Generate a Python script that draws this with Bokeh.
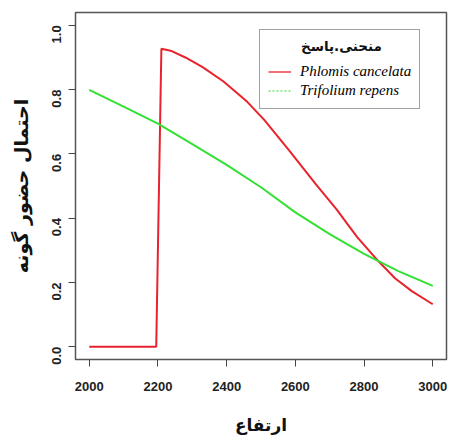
import math
from bokeh.plotting import figure
from bokeh.models import (Range1d, FixedTicker, Legend, LegendItem, NumeralTickFormatter)
from bokeh.embed import file_html
from bokeh.resources import INLINE

# ---- data ----
phlomis_x = [2000, 2195, 2210, 2240, 2280, 2330, 2390, 2460, 2510, 2580, 2660, 2720, 2780, 2840, 2890, 2940, 3000]
phlomis_y = [0.0, 0.0, 0.927, 0.920, 0.900, 0.870, 0.826, 0.762, 0.705, 0.613, 0.505, 0.427, 0.341, 0.268, 0.213, 0.172, 0.132]

trifolium_x = [2000, 2100, 2200, 2300, 2400, 2500, 2600, 2700, 2800, 2900, 3000]
trifolium_y = [0.799, 0.747, 0.694, 0.630, 0.566, 0.496, 0.418, 0.350, 0.289, 0.235, 0.189]

x_ticks = [2000, 2200, 2400, 2600, 2800, 3000]
y_ticks = [0.0, 0.2, 0.4, 0.6, 0.8, 1.0]

legend_title = "منحنی.پاسخ"
series_names = ["Phlomis cancelata", "Trifolium repens"]
x_title = "ارتفاع"
y_title = "احتمال حضور گونه"

RED = "#e8232b"
GREEN = "#33e033"
NAN = float("nan")

p = figure(frame_width=371, frame_height=347,
           min_border_left=75, min_border_right=3, min_border_top=12, min_border_bottom=81,
           x_range=Range1d(1960, 3040), y_range=Range1d(-0.04, 1.04),
           output_backend="svg", toolbar_location=None,
           background_fill_color="white", border_fill_color="white")

p.xgrid.visible = False
p.ygrid.visible = False
p.outline_line_color = "#555555"
p.outline_line_width = 1.5

r1 = p.line(phlomis_x, phlomis_y, line_color=RED, line_width=2)
r2 = p.line(trifolium_x, trifolium_y, line_color=GREEN, line_width=2)

# legend sample renderers (no visible data) so the legend shows a dotted green sample
l1 = p.line([NAN], [NAN], line_color="#f07078", line_width=2)
l2 = p.line([NAN], [NAN], line_color="#90ee90", line_width=2, line_dash="2 2")

# axes
for ax in (p.xaxis[0], p.yaxis[0]):
    ax.axis_line_color = None
    ax.major_tick_line_color = "#444444"
    ax.major_tick_line_width = 1
    ax.minor_tick_line_color = None
    ax.major_tick_in = 0
    ax.major_tick_out = 7
    ax.major_label_text_font = "Liberation Sans"
    ax.major_label_text_font_style = "bold"
    ax.major_label_text_font_size = "13px"
    ax.major_label_text_color = "#222222"
    ax.axis_label_text_font = "DejaVu Sans"
    ax.axis_label_text_font_style = "bold"
    ax.axis_label_text_color = "#111111"

p.xaxis.ticker = FixedTicker(ticks=x_ticks)
p.yaxis.ticker = FixedTicker(ticks=y_ticks)
p.yaxis.formatter = NumeralTickFormatter(format="0.0")
p.yaxis.major_label_orientation = math.pi / 2

p.xaxis.axis_label = x_title
p.yaxis.axis_label = y_title
p.xaxis.axis_label_text_font_size = "17px"
p.yaxis.axis_label_text_font_size = "19px"
p.xaxis.major_label_standoff = 15
p.xaxis.axis_label_standoff = 21
p.yaxis.major_label_standoff = 12
p.yaxis.axis_label_standoff = 13

legend = Legend(items=[LegendItem(label=series_names[0], renderers=[l1]),
                       LegendItem(label=series_names[1], renderers=[l2])],
                location=(184, 250),
                title="\u00a0" * 7 + legend_title,
                title_text_font="DejaVu Sans", title_text_font_style="bold",
                title_text_font_size="13.5px", title_text_color="#111111",
                title_standoff=8,
                label_text_font="Liberation Serif", label_text_font_style="italic",
                label_text_font_size="15px", label_text_color="#000000",
                label_height=19, label_standoff=9,
                glyph_width=23, glyph_height=19, spacing=0, padding=8, margin=0,
                border_line_color="#444444", border_line_width=1.5,
                background_fill_alpha=1.0)
p.add_layout(legend)

open("out.html", "w").write(file_html(p, INLINE))
